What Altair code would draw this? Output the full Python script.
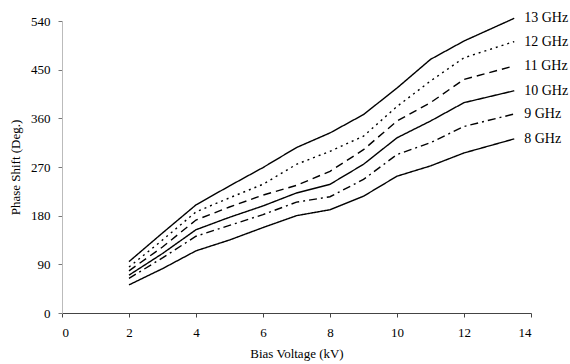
import altair as alt
import pandas as pd

# Bias voltage (kV) sample points
voltage = [2, 3, 4, 5, 6, 7, 8, 9, 10, 11, 12, 13.5]

# Phase shift (degrees) at each frequency
phase_13 = [95, 148, 200, 235, 269, 306, 333, 367, 416, 469, 503, 545]
phase_12 = [85, 135, 187, 213, 238, 275, 299, 327, 382, 429, 472, 502]
phase_11 = [78, 122, 172, 196, 218, 236, 262, 302, 355, 389, 432, 457]
phase_10 = [70, 110, 154, 177, 198, 222, 238, 275, 324, 355, 389, 411]
phase_9 = [64, 102, 142, 162, 182, 205, 215, 247, 293, 315, 345, 368]
phase_8 = [52, 82, 115, 135, 158, 180, 191, 216, 253, 272, 296, 322]

series_names = ["13 GHz", "12 GHz", "11 GHz", "10 GHz", "9 GHz", "8 GHz"]
series_values = [phase_13, phase_12, phase_11, phase_10, phase_9, phase_8]
dash_styles = [[1, 0], [2, 4], [8, 5], [1, 0], [8, 4, 2, 4], [1, 0]]

rows = []
for name, vals in zip(series_names, series_values):
    for v, p in zip(voltage, vals):
        rows.append({"series": name, "voltage": v, "phase": p})
df = pd.DataFrame(rows)

ends = pd.DataFrame(
    [{"series": n, "voltage": voltage[-1], "phase": vals[-1]} for n, vals in zip(series_names, series_values)]
)

FONT = "Times New Roman, Liberation Serif, Times, serif"

x_enc = alt.X(
    "voltage:Q",
    scale=alt.Scale(domain=[0, 14], nice=False),
    axis=alt.Axis(
        values=[0, 2, 4, 6, 8, 10, 12, 14],
        title="Bias Voltage (kV)",
        grid=False,
        domainColor="#444",
        tickColor="#444",
        tickSize=4,
        labelPadding=9,
        titlePadding=8,
    ),
)
y_enc = alt.Y(
    "phase:Q",
    scale=alt.Scale(domain=[0, 540], nice=False),
    axis=alt.Axis(
        values=[0, 90, 180, 270, 360, 450, 540],
        title="Phase Shift (Deg.)",
        grid=False,
        domainColor="#bbbbbb",
        tickColor="#777",
        tickSize=4,
        labelPadding=8,
        titlePadding=8,
    ),
)

lines = alt.Chart(df).mark_line(color="black", strokeWidth=1.4, clip=False).encode(
    x=x_enc,
    y=y_enc,
    detail="series:N",
    strokeDash=alt.StrokeDash(
        "series:N",
        scale=alt.Scale(domain=series_names, range=dash_styles),
        legend=None,
    ),
)

labels = alt.Chart(ends).mark_text(
    align="left", baseline="middle", dx=10, font=FONT, fontSize=14, color="black"
).encode(x="voltage:Q", y="phase:Q", text="series:N")

chart = (
    alt.layer(lines, labels)
    .properties(
        width=469,
        height=292,
        autosize=alt.AutoSizeParams(type="none"),
        padding={"left": 62, "top": 21, "right": 39, "bottom": 51},
    )
    .configure_view(stroke=None)
    .configure_axis(
        labelFont=FONT,
        titleFont=FONT,
        labelFontSize=13,
        titleFontSize=13,
        titleFontWeight="normal",
        labelColor="black",
        titleColor="black",
    )
)

chart.save("out.html", embed_options={"renderer": "svg", "actions": False})
